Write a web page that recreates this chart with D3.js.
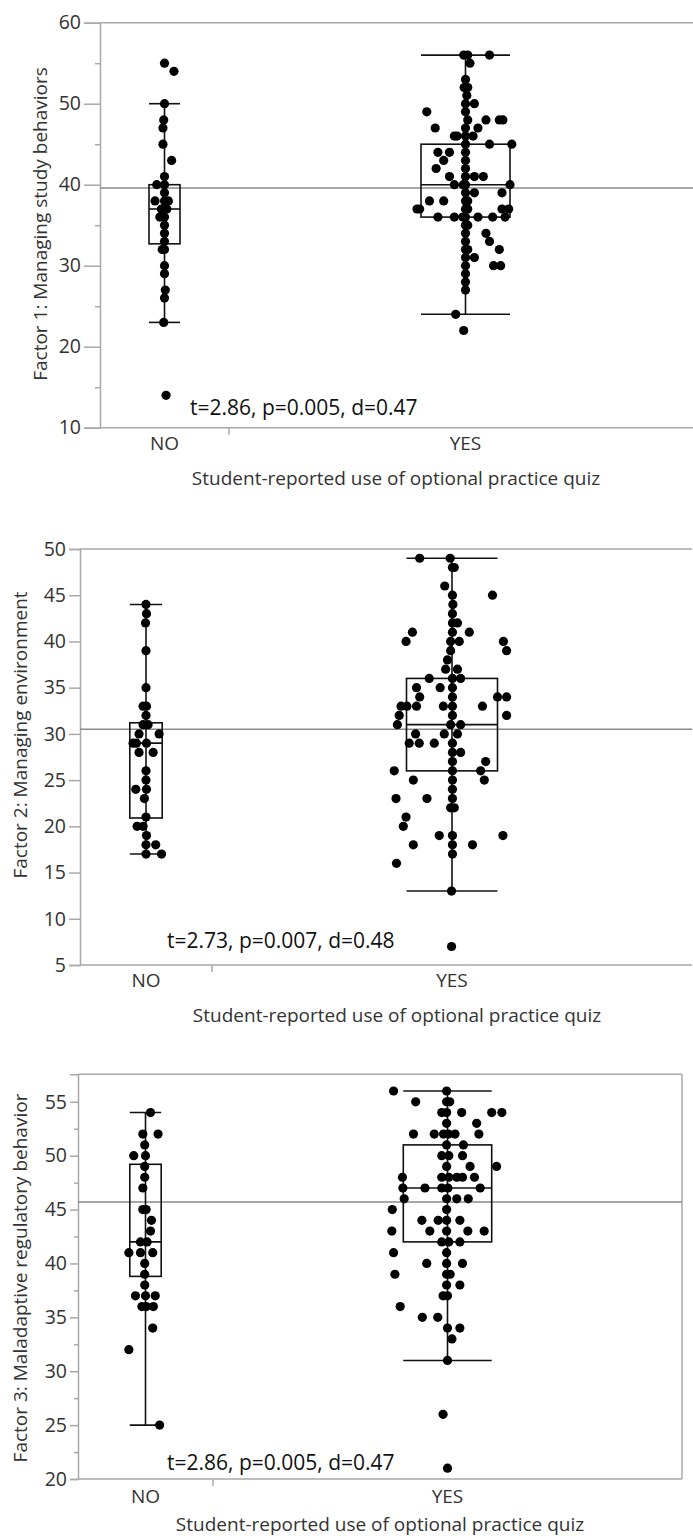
<!DOCTYPE html>
<html>
<head>
<meta charset="utf-8">
<script src="https://cdn.jsdelivr.net/npm/d3@7"></script>
<style>
  body { margin: 0; background: #fff; }
  svg text { font-family: "Open Sans", "Noto Sans", sans-serif; }
</style>
</head>
<body>
<svg id="chart" width="693" height="1540"></svg>
<script>
// ---- data ----
const groups = ["NO", "YES"];
const yTitles = [
    "Factor 1: Managing study behaviors",
    "Factor 2: Managing environment",
    "Factor 3: Maladaptive regulatory behavior"
];
const xTitle = "Student-reported use of optional practice quiz";
const testStats = [
    "t=2.86, p=0.005, d=0.47",
    "t=2.73, p=0.007, d=0.48",
    "t=2.86, p=0.005, d=0.47"
];
const grandMeans = [39.6, 30.5, 45.7];

// box stats: [lower whisker, q1, median, q3, upper whisker]
const f1NoBox = [23, 32.7, 37, 40, 50];
const f1YesBox = [24, 36, 40, 45, 56];
const f2NoBox = [17, 20.9, 29, 31.2, 44];
const f2YesBox = [13, 26, 31, 36, 49];
const f3NoBox = [25, 38.8, 42, 49.2, 54];
const f3YesBox = [31, 42, 47, 51, 56];

// points: [score, jitter] (jitter in box half-widths)
const f1No = [[55,0],[54,0.61],[50,0],[48,-0.05],[47,-0.1],[45,-0.1],[43,0.46],[41,0],
    [40,-0.5],[40,0],[39,0],[38,-0.61],[38,0.25],[38,0],[37,0.15],[37,-0.2],[36,-0.3],
    [36,0],[35,0],[34,0],[33,0],[32,-0.15],[32,0],[30,0],[29,0],[27,0.05],[26,0],
    [23,-0.05],[14,0.1]];
const f1Yes = [[56,-0.04],[56,0.05],[56,0.54],[55,0.1],[53,0],[52,0.05],[52,-0.03],
    [51,0.03],[50,0],[50,0.2],[49,0],[49,-0.87],[48,0.05],[48,0.46],[48,0.76],[48,0.84],
    [47,0],[47,-0.68],[47,0.28],[46,-0.25],[46,-0.19],[46,0],[46,0.17],[45,0],[45,0.54],
    [45,1.04],[44,0],[44,-0.62],[44,-0.36],[43,0],[43,-0.49],[42,0],[42,-0.66],[41,0],
    [41,-0.36],[41,0.2],[41,0.4],[40,0],[40,-0.25],[40,1.0],[40,-0.05],[39,0],[39,0.2],
    [39,0.82],[38,0],[38,-0.81],[38,-0.49],[38,0.05],[37,0],[37,-1.09],[37,-1.03],
    [37,0.82],[37,0.97],[37,0.05],[36,0],[36,-0.62],[36,-0.25],[36,0.28],[36,0.61],
    [36,0.89],[36,-0.06],[35,0],[35,0.05],[34,0],[34,0.46],[33,0],[33,0.54],[32,0],
    [32,0.05],[32,0.76],[31,0],[31,0.2],[30,0],[30,0.63],[30,0.79],[29,0],[28,0],[27,0],
    [24,-0.22],[22,-0.04]];
const f2No = [[44,0],[43,0.03],[42,-0.03],[39,0],[35,0],[33,-0.18],[33,0.03],[32,0],
    [31,-0.18],[31,0.13],[30,-0.43],[30,0.81],[29,-0.8],[29,-0.59],[29,0.03],[28,-0.43],
    [28,0.44],[26,0],[25,0],[24,-0.63],[24,0.03],[23,-0.1],[21,0],[20,-0.55],[20,-0.18],
    [19,0.03],[18,0],[18,0.6],[17,0],[17,0.96]];
const f2Yes = [[49,-0.71],[49,-0.04],[48,0.01],[48,0.05],[46,-0.16],[45,0.89],[45,0.01],
    [44,0.02],[43,0.01],[42,0.01],[42,0.12],[41,-0.87],[41,0.38],[41,0.01],[40,-1.01],
    [40,1.13],[40,0.16],[40,-0.03],[39,1.2],[39,-0.03],[38,-0.1],[37,-0.14],[37,0.12],
    [36,-0.5],[36,0.19],[36,0.01],[35,-0.78],[35,-0.26],[35,0.01],[34,-0.71],[34,1.0],
    [34,1.2],[34,0.01],[33,-1.12],[33,-0.99],[33,-0.78],[33,-0.19],[33,0.67],[33,0.01],
    [32,-1.16],[32,1.2],[32,0.01],[31,-1.2],[31,-0.03],[31,0.19],[30,-0.8],[30,-0.17],
    [30,0.12],[29,-0.94],[29,-0.72],[29,-0.39],[29,0.01],[28,0.19],[28,0.01],[27,0.74],
    [27,0.01],[26,-1.27],[26,0.63],[26,0.01],[25,-0.85],[25,0.71],[25,0.01],[24,0.01],
    [23,-1.23],[23,-0.55],[23,0.01],[22,-0.03],[22,0.05],[21,-1.01],[20,-1.07],[19,-0.28],
    [19,0.01],[19,1.12],[18,-0.85],[18,0.01],[18,0.45],[17,0.01],[16,-1.22],[13,-0.01],
    [7,-0.01]];
const f3No = [[54,0.32],[52,-0.17],[52,0.8],[51,-0.05],[50,-0.75],[50,0],[49,-0.05],
    [48,-0.05],[47,-0.17],[45,-0.17],[45,0.04],[44,0.38],[43,0.32],[42,-0.32],[42,0.1],
    [41,-1.06],[41,-0.32],[41,0.46],[40,-0.05],[39,-0.05],[38,-0.05],[37,-0.64],[37,0],
    [37,0.62],[36,-0.23],[36,0.05],[36,0.5],[34,0.46],[32,-1.06],[25,0.9]];
const f3Yes = [[56,-1.22],[56,-0.02],[55,-0.72],[55,-0.02],[55,0.05],[54,-0.13],[54,-0.02],
    [54,0.32],[54,1.0],[54,1.23],[53,-0.02],[53,0.66],[52,-0.77],[52,-0.3],[52,-0.09],
    [52,0.02],[52,0.17],[52,0.71],[51,-0.02],[51,0.36],[50,-0.13],[50,0.03],[50,0.34],
    [49,-0.02],[49,0.51],[49,1.11],[48,-1.02],[48,-0.13],[48,0.03],[48,0.21],[48,0.34],
    [48,0.61],[47,-1.01],[47,-0.51],[47,-0.13],[47,0.01],[47,0.74],[46,-0.98],[46,-0.02],
    [46,0.21],[46,0.47],[45,-1.25],[45,-0.02],[44,-0.58],[44,-0.21],[44,-0.02],[44,0.28],
    [43,-1.26],[43,-0.4],[43,-0.02],[43,0.46],[43,0.83],[42,-0.13],[42,0.03],[42,0.28],
    [41,-1.22],[41,-0.02],[40,-0.47],[40,-0.02],[40,0.34],[39,-1.19],[39,-0.02],[39,0.06],
    [38,-0.02],[38,0.28],[37,-0.1],[37,0],[36,-1.07],[35,-0.57],[35,-0.22],[34,0],
    [34,0.28],[33,0.1],[31,0],[26,-0.1],[21,0]];

const panelData = [
    { boxes: [f1NoBox, f1YesBox], points: [f1No, f1Yes] },
    { boxes: [f2NoBox, f2YesBox], points: [f2No, f2Yes] },
    { boxes: [f3NoBox, f3YesBox], points: [f3No, f3Yes] }
];

// ---- layout of each pasted panel ----
const layouts = [
    { top: 22.7, bottom: 427.7, dom: [10, 60], left: 100, right: 702, split: 229,
      major: d3.range(10, 61, 10), minor: d3.range(15, 56, 10), majorLen: 16, minorLen: 5,
      halfW: [15.5, 44.5], frameRight: false, fs: 19,
      yTitleX: 40, yTitleY: 224, statX: 190, statY: 415, catY: 443, xTitleX: 396, xTitleY: 478 },
    { top: 549, bottom: 965, dom: [5, 50], left: 80, right: 692, split: 212,
      major: d3.range(5, 51, 5), minor: [], majorLen: 11, minorLen: 0,
      halfW: [16.2, 45.5], frameRight: false, fs: 19,
      yTitleX: 20, yTitleY: 735, statX: 167, statY: 948, catY: 980, xTitleX: 397, xTitleY: 1015 },
    { top: 1074.3, bottom: 1479, dom: [20, 57.55], left: 78, right: 682, split: 213,
      major: d3.range(20, 56, 5), minor: d3.range(22.5, 55, 5), majorLen: 8, minorLen: 4,
      halfW: [15.7, 44.2], frameRight: true, fs: 19,
      yTitleX: 20, yTitleY: 1278, statX: 167, statY: 1470, catY: 1496, xTitleX: 380, xTitleY: 1524 }
];

const svg = d3.select("#chart");
const axisGrey = "#a8a8a8";

layouts.forEach(function (L, i) {
    const data = panelData[i];
    const g = svg.append("g");

    const Y = d3.scaleLinear().domain(L.dom).range([L.bottom, L.top]);
    // group centers sit in the middle of their (unequal) x-axis sections
    const X = d3.scaleOrdinal()
        .domain(groups)
        .range([(L.left + L.split) / 2, (L.split + L.right) / 2]);

    // frame: top border, optional right border, bottom axis
    g.append("line")
        .attr("x1", L.left).attr("x2", L.right)
        .attr("y1", L.top).attr("y2", L.top)
        .attr("stroke", axisGrey).attr("stroke-width", 1.5);
    if (L.frameRight) {
        g.append("line")
            .attr("x1", L.right).attr("x2", L.right)
            .attr("y1", L.top).attr("y2", L.bottom)
            .attr("stroke", axisGrey).attr("stroke-width", 1.5);
    }
    g.append("line")
        .attr("x1", L.left).attr("x2", L.right)
        .attr("y1", L.bottom).attr("y2", L.bottom)
        .attr("stroke", axisGrey).attr("stroke-width", 1.5);
    g.append("line")
        .attr("x1", L.split).attr("x2", L.split)
        .attr("y1", L.bottom).attr("y2", L.bottom + 7)
        .attr("stroke", axisGrey).attr("stroke-width", 1.5);

    // y axis, major and minor ticks
    const yAxis = g.append("g")
        .attr("transform", `translate(${L.left},0)`)
        .call(d3.axisLeft(Y).tickValues(L.major).tickSize(L.majorLen).tickPadding(3)
            .tickFormat(d3.format("d")));
    yAxis.select(".domain").attr("stroke", axisGrey).attr("stroke-width", 1.5);
    yAxis.selectAll(".tick line").attr("stroke", axisGrey).attr("stroke-width", 1.5);
    yAxis.selectAll(".tick text")
        .style("font-size", (L.fs + 0.5) + "px").attr("fill", "#333");

    if (L.minor.length) {
        const yMinor = g.append("g")
            .attr("transform", `translate(${L.left},0)`)
            .call(d3.axisLeft(Y).tickValues(L.minor).tickSize(L.minorLen).tickFormat(""));
        yMinor.select(".domain").remove();
        yMinor.selectAll(".tick line").attr("stroke", axisGrey).attr("stroke-width", 1.5);
    }

    // grand mean line
    g.append("line")
        .attr("x1", L.left).attr("x2", L.right)
        .attr("y1", Y(grandMeans[i])).attr("y2", Y(grandMeans[i]))
        .attr("stroke", "#8a8a8a").attr("stroke-width", 1.6);

    // box plots
    groups.forEach(function (grp, k) {
        const b = data.boxes[k];
        const cx = X(grp);
        const hw = L.halfW[k];
        const bg = g.append("g")
            .attr("fill", "none").attr("stroke", "#111").attr("stroke-width", 1.6);
        bg.append("line")
            .attr("x1", cx).attr("x2", cx)
            .attr("y1", Y(b[0])).attr("y2", Y(b[4]));
        [b[0], b[4]].forEach(function (v) {
            bg.append("line")
                .attr("x1", cx - hw).attr("x2", cx + hw)
                .attr("y1", Y(v)).attr("y2", Y(v));
        });
        bg.append("rect")
            .attr("x", cx - hw).attr("width", 2 * hw)
            .attr("y", Y(b[3])).attr("height", Y(b[1]) - Y(b[3]));
        bg.append("line")
            .attr("x1", cx - hw).attr("x2", cx + hw)
            .attr("y1", Y(b[2])).attr("y2", Y(b[2]));

        // jittered points
        const J = d3.scaleLinear().domain([-1, 1]).range([cx - hw, cx + hw]);
        g.append("g").selectAll("circle")
            .data(data.points[k])
            .enter()
            .append("circle")
            .attr("cx", d => J(d[1]))
            .attr("cy", d => Y(d[0]))
            .attr("r", 4.6)
            .attr("fill", "#000");
    });

    // category labels
    g.selectAll("text.cat")
        .data(groups)
        .enter()
        .append("text")
        .attr("class", "cat")
        .attr("x", d => X(d))
        .attr("y", L.catY)
        .attr("dy", "0.35em")
        .attr("text-anchor", "middle")
        .style("font-size", L.fs + "px")
        .attr("fill", "#333")
        .text(d => d);

    // x title
    g.append("text")
        .attr("x", L.xTitleX).attr("y", L.xTitleY).attr("dy", "0.35em")
        .attr("text-anchor", "middle")
        .style("font-size", L.fs + "px").attr("fill", "#333")
        .text(xTitle);

    // y title
    g.append("text")
        .attr("transform", `translate(${L.yTitleX},${L.yTitleY}) rotate(-90)`)
        .attr("dy", "0.35em")
        .attr("text-anchor", "middle")
        .style("font-size", L.fs + "px").attr("fill", "#333")
        .text(yTitles[i]);

    // test statistic annotation
    g.append("text")
        .attr("x", L.statX).attr("y", L.statY)
        .style("font-size", (L.fs + 2) + "px").attr("fill", "#111")
        .text(testStats[i]);
});
</script>
</body>
</html>
